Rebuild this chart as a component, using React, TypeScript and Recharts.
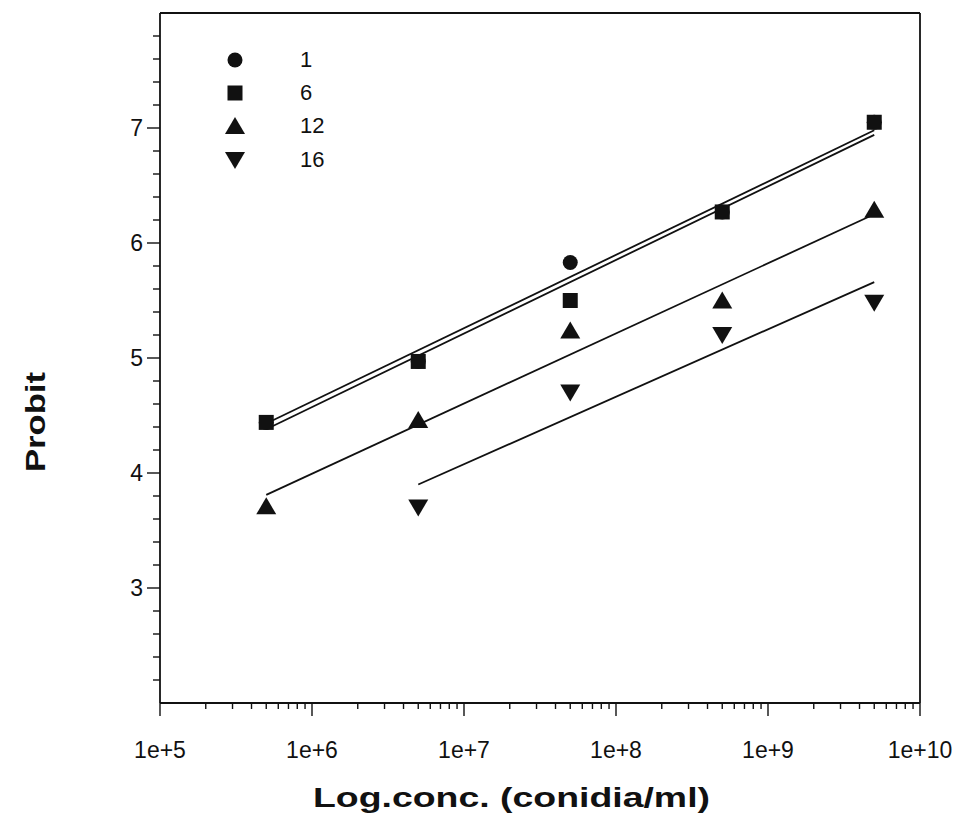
import React from "react";
import { ComposedChart, Line, Scatter, XAxis, YAxis, ReferenceLine } from "recharts";

// concentrations (conidia/ml) and probit values per series
const concentrations = [5e5, 5e6, 5e7, 5e8, 5e9];
const probit1 = [4.44, 4.97, 5.83, 6.27, 7.05];
const probit6 = [4.44, 4.97, 5.5, 6.27, 7.05];
const probit12 = [3.71, 4.46, 5.24, 5.5, 6.29];
const probit16 = [null, 3.7, 4.7, 5.2, 5.48];

// regression line end points
const fitX = [5e5, 5e9];
const fit1 = [4.43, 6.98];
const fit6 = [4.38, 6.94];
const fit12 = [3.81, 6.25];
const fit16X = [5e6, 5e9];
const fit16 = [3.9, 5.66];

const decades = [1e5, 1e6, 1e7, 1e8, 1e9];
const minorSteps = [2, 3, 4, 5, 6, 7, 8, 9];
const xTicks = [...decades.flatMap((d) => [d, ...minorSteps.map((m) => d * m)]), 1e10];
const yMajor = [3, 4, 5, 6, 7];
const yTicks = Array.from({ length: 29 }, (_, i) => +(2.2 + i * 0.2).toFixed(1));

const FONT = '"Liberation Sans", Arial, sans-serif';
const INK = "#111";

const toPoints = (xs: number[], ys: (number | null)[]) =>
  xs.map((x, i) => ({ x, y: ys[i] })).filter((p) => p.y != null);

const CircleDot = ({ cx, cy }: any) => <circle cx={cx} cy={cy} r={7.5} fill={INK} />;
const SquareDot = ({ cx, cy }: any) => (
  <rect x={cx - 7.5} y={cy - 7.5} width={15} height={15} fill={INK} />
);
const TriUpDot = ({ cx, cy }: any) => (
  <path d={`M${cx},${cy - 9} L${cx + 10},${cy + 8} L${cx - 10},${cy + 8} Z`} fill={INK} />
);
const TriDownDot = ({ cx, cy }: any) => (
  <path d={`M${cx - 10},${cy - 8} L${cx + 10},${cy - 8} L${cx},${cy + 9} Z`} fill={INK} />
);

function XTick({ x, y, payload }: any) {
  const e = Math.log10(payload.value);
  const major = Math.abs(e - Math.round(e)) < 1e-6;
  return (
    <g>
      <line x1={x} x2={x} y1={y} y2={y + (major ? 13 : 6)} stroke={INK} strokeWidth={1.4} />
      {major && (
        <text x={x} y={y + 55} textAnchor="middle" fontSize={23} fontFamily={FONT} fill={INK}>
          {`1e+${Math.round(e)}`}
        </text>
      )}
    </g>
  );
}

function YTick({ x, y, payload }: any) {
  const major = yMajor.includes(payload.value);
  return (
    <g>
      <line x1={x} x2={x - (major ? 13 : 7)} y1={y} y2={y} stroke={INK} strokeWidth={1.4} />
      {major && (
        <text x={x - 17} y={y + 8} textAnchor="end" fontSize={23} fontFamily={FONT} fill={INK}>
          {payload.value}
        </text>
      )}
    </g>
  );
}

const legendItems = [
  { label: "1", Dot: CircleDot },
  { label: "6", Dot: SquareDot },
  { label: "12", Dot: TriUpDot },
  { label: "16", Dot: TriDownDot },
];

export default function App() {
  return (
    <div style={{ position: "absolute", left: 0, top: 0, width: 965, height: 824, background: "#fff" }}>
      <ComposedChart width={965} height={824} margin={{ top: 13, right: 45, bottom: 0, left: 60 }}>
        <XAxis
          type="number"
          dataKey="x"
          scale="log"
          domain={[1e5, 1e10]}
          allowDataOverflow
          ticks={xTicks}
          interval={0}
          tick={<XTick />}
          tickLine={false}
          tickSize={0}
          tickMargin={0}
          height={121}
          axisLine={{ stroke: INK, strokeWidth: 1.8 }}
          label={{
            content: () => (
              <text
                x={313}
                y={807}
                textLength={397}
                lengthAdjust="spacingAndGlyphs"
                fontSize={28}
                fontWeight="bold"
                fontFamily={FONT}
                fill={INK}
              >
                Log.conc. (conidia/ml)
              </text>
            ),
          }}
        />
        <YAxis
          type="number"
          domain={[2, 8]}
          allowDataOverflow
          ticks={yTicks}
          interval={0}
          tick={<YTick />}
          tickLine={false}
          tickSize={0}
          tickMargin={0}
          width={100}
          axisLine={{ stroke: INK, strokeWidth: 1.8 }}
          label={{
            content: () => (
              <text
                x={45}
                y={422}
                transform="rotate(-90 45 422)"
                textAnchor="middle"
                textLength={100}
                lengthAdjust="spacingAndGlyphs"
                fontSize={28}
                fontWeight="bold"
                fontFamily={FONT}
                fill={INK}
              >
                Probit
              </text>
            ),
          }}
        />
        <ReferenceLine y={8} stroke={INK} strokeWidth={1.8} />
        <ReferenceLine x={1e10} stroke={INK} strokeWidth={1.8} />

        <Line data={toPoints(fitX, fit1)} dataKey="y" stroke={INK} strokeWidth={1.8} dot={false} isAnimationActive={false} />
        <Line data={toPoints(fitX, fit6)} dataKey="y" stroke={INK} strokeWidth={1.8} dot={false} isAnimationActive={false} />
        <Line data={toPoints(fitX, fit12)} dataKey="y" stroke={INK} strokeWidth={1.8} dot={false} isAnimationActive={false} />
        <Line data={toPoints(fit16X, fit16)} dataKey="y" stroke={INK} strokeWidth={1.8} dot={false} isAnimationActive={false} />

        <Scatter data={toPoints(concentrations, probit1)} dataKey="y" shape={<CircleDot />} isAnimationActive={false} />
        <Scatter data={toPoints(concentrations, probit6)} dataKey="y" shape={<SquareDot />} isAnimationActive={false} />
        <Scatter data={toPoints(concentrations, probit12)} dataKey="y" shape={<TriUpDot />} isAnimationActive={false} />
        <Scatter data={toPoints(concentrations, probit16)} dataKey="y" shape={<TriDownDot />} isAnimationActive={false} />
      </ComposedChart>

      {/* legend, top-left inside the frame */}
      <div style={{ position: "absolute", left: 222, top: 43, fontFamily: FONT, fontSize: 22, color: INK }}>
        {legendItems.map(({ label, Dot }) => (
          <div key={label} style={{ display: "flex", alignItems: "center", height: 33.3 }}>
            <svg width={26} height={26} style={{ display: "block" }}>
              <Dot cx={13} cy={13} />
            </svg>
            <span style={{ marginLeft: 52, lineHeight: 1 }}>{label}</span>
          </div>
        ))}
      </div>
    </div>
  );
}
